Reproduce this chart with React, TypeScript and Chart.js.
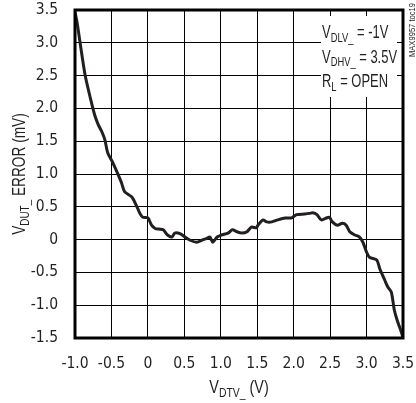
import React, { useEffect, useRef } from "react";
import { Chart, registerables } from "chart.js";

Chart.register(...registerables);

// ---- data ----
const xValues = [
  -1.0, -0.97, -0.93, -0.86, -0.79, -0.73, -0.68, -0.63, -0.59, -0.55,
  -0.48, -0.42, -0.36, -0.32, -0.22, -0.15, -0.11, -0.07, 0.0, 0.05,
  0.1, 0.15, 0.21, 0.27, 0.33, 0.37, 0.44, 0.51, 0.58, 0.67,
  0.74, 0.81, 0.85, 0.89, 0.95, 1.01, 1.1, 1.16, 1.22, 1.29,
  1.36, 1.42, 1.49, 1.51, 1.58, 1.63, 1.7, 1.78, 1.88, 1.97,
  2.04, 2.15, 2.22, 2.26, 2.32, 2.38, 2.45, 2.49, 2.53, 2.6,
  2.67, 2.72, 2.77, 2.84, 2.9, 2.95, 3.0, 3.04, 3.14, 3.18,
  3.25, 3.29, 3.34, 3.38, 3.42, 3.48, 3.5,
];
const yValues = [
  3.47, 3.3, 3.0, 2.5, 2.16, 1.9, 1.75, 1.64, 1.52, 1.32,
  1.17, 1.02, 0.86, 0.73, 0.65, 0.5, 0.4, 0.34, 0.33, 0.22,
  0.17, 0.16, 0.15, 0.07, 0.04, 0.1, 0.09, 0.04, -0.01, -0.04,
  -0.01, 0.02, 0.04, -0.04, 0.04, 0.07, 0.1, 0.15, 0.12, 0.1,
  0.12, 0.19, 0.18, 0.22, 0.3, 0.27, 0.27, 0.3, 0.33, 0.33,
  0.38, 0.39, 0.4, 0.41, 0.38, 0.3, 0.33, 0.34, 0.27, 0.22,
  0.25, 0.22, 0.12, 0.07, 0.04, -0.04, -0.19, -0.27, -0.31, -0.44,
  -0.62, -0.72, -0.8, -1.07, -1.23, -1.42, -1.5,
];
const xTickLabels = ["-1.0", "-0.5", "0", "0.5", "1.0", "1.5", "2.0", "2.5", "3.0", "3.5"];
const yTickLabels = ["-1.5", "-1.0", "-0.5", "0", "0.5", "1.0", "1.5", "2.0", "2.5", "3.0", "3.5"];
const X_MIN = -1.0, X_MAX = 3.5, Y_MIN = -1.5, Y_MAX = 3.5, STEP = 0.5;

type Seg = [string, boolean];
const yTitle: Seg[] = [["V", false], ["DUT_", true], [" ERROR (mV)", false]];
const xTitle: Seg[] = [["V", false], ["DTV_", true], [" (V)", false]];
const noteLines: Seg[][] = [
  [["V", false], ["DLV_", true], [" = -1V", false]],
  [["V", false], ["DHV_", true], [" = 3.5V", false]],
  [["R", false], ["L", true], [" = OPEN", false]],
];
const tocLabel = "MAX9957 toc19";

const FAMILY = "'Liberation Sans', Arial, sans-serif";
const TICK_FAMILY = "'DejaVu Sans Condensed', 'Liberation Sans', sans-serif";
const INK = "#231f20";
const NARROW = 0.8;

function drawRich(ctx: CanvasRenderingContext2D, segs: Seg[], x: number, y: number, align: "left" | "center", size: number, subSize: number, narrow = NARROW) {
  const widths = segs.map(([t, sub]) => {
    ctx.font = `${sub ? subSize : size}px ${FAMILY}`;
    return ctx.measureText(t).width;
  });
  const total = widths.reduce((a, b) => a + b, 0);
  ctx.save();
  ctx.translate(x, y);
  ctx.scale(narrow, 1);
  let cx = align === "center" ? -total / 2 : 0;
  ctx.textAlign = "left";
  ctx.textBaseline = "alphabetic";
  segs.forEach(([t, sub], i) => {
    ctx.font = `${sub ? subSize : size}px ${FAMILY}`;
    ctx.fillText(t, cx, sub ? size * 0.22 : 0);
    cx += widths[i];
  });
  ctx.restore();
}

const decorPlugin = {
  id: "decor",
  afterDraw(chart: any) {
    const ctx: CanvasRenderingContext2D = chart.ctx;
    const a = chart.chartArea;
    ctx.save();
    // note box background
    ctx.fillStyle = "#ffffff";
    ctx.fillRect(321, 16, 76, 81);
    ctx.fillStyle = INK;
    noteLines.forEach((line, i) => drawRich(ctx, line, 322, 38 + i * 24.5, "left", 18, 13, 0.72));
    // frame
    ctx.strokeStyle = "#000";
    ctx.lineWidth = 3;
    ctx.strokeRect(a.left, a.top, a.right - a.left, a.bottom - a.top);
    // axis titles
    ctx.fillStyle = INK;
    drawRich(ctx, xTitle, (a.left + a.right) / 2, 393, "center", 18, 13);
    ctx.save();
    ctx.translate(25, (a.top + a.bottom) / 2);
    ctx.rotate(-Math.PI / 2);
    drawRich(ctx, yTitle, 0, 0, "center", 18, 13, 0.76);
    ctx.restore();
    // toc label
    ctx.save();
    ctx.translate(415, 30);
    ctx.rotate(-Math.PI / 2);
    ctx.scale(NARROW, 1);
    ctx.font = `9.5px ${FAMILY}`;
    ctx.textAlign = "center";
    ctx.textBaseline = "alphabetic";
    ctx.fillText(tocLabel, 0, 0);
    ctx.restore();
    ctx.restore();
  },
};

export default function App() {
  const ref = useRef<HTMLCanvasElement | null>(null);
  useEffect(() => {
    if (!ref.current) return;
    const data = xValues.map((x, i) => ({ x, y: yValues[i] }));
    const chart = new Chart(ref.current, {
      type: "line",
      data: {
        datasets: [
          {
            data,
            borderColor: INK,
            borderWidth: 3,
            pointRadius: 0,
            tension: 0.25,
            fill: false,
          },
        ],
      },
      options: {
        responsive: false,
        animation: false,
        layout: { padding: { left: 0, top: 10, right: 13, bottom: 0 } },
        plugins: { legend: { display: false }, tooltip: { enabled: false } },
        scales: {
          x: {
            type: "linear",
            min: X_MIN,
            max: X_MAX,
            afterFit: (s: any) => {
              s.height = 65;
              s.paddingLeft = 0;
              s.paddingRight = 0;
            },
            grid: { color: "#000", lineWidth: 1, drawTicks: false },
            border: { display: false },
            ticks: {
              stepSize: STEP,
              padding: 17,
              color: INK,
              font: { family: TICK_FAMILY, size: 15.5 },
              maxRotation: 0,
              autoSkip: false,
              callback: (v: any) => xTickLabels[Math.round((Number(v) - X_MIN) / STEP)],
            },
          },
          y: {
            type: "linear",
            min: Y_MIN,
            max: Y_MAX,
            afterFit: (s: any) => {
              s.width = 75;
              s.paddingTop = 0;
              s.paddingBottom = 0;
            },
            grid: { color: "#000", lineWidth: 1, drawTicks: false },
            border: { display: false },
            ticks: {
              stepSize: STEP,
              padding: 17,
              color: INK,
              font: { family: TICK_FAMILY, size: 15.5 },
              autoSkip: false,
              callback: (v: any) => yTickLabels[Math.round((Number(v) - Y_MIN) / STEP)],
            },
          },
        },
      },
      plugins: [decorPlugin],
    } as any);
    return () => chart.destroy();
  }, []);
  return (
    <div style={{ position: "fixed", left: 0, top: 0, width: 416, height: 403, background: "#fff" }}>
      <canvas ref={ref} width={416} height={403} style={{ width: 416, height: 403 }} />
    </div>
  );
}
